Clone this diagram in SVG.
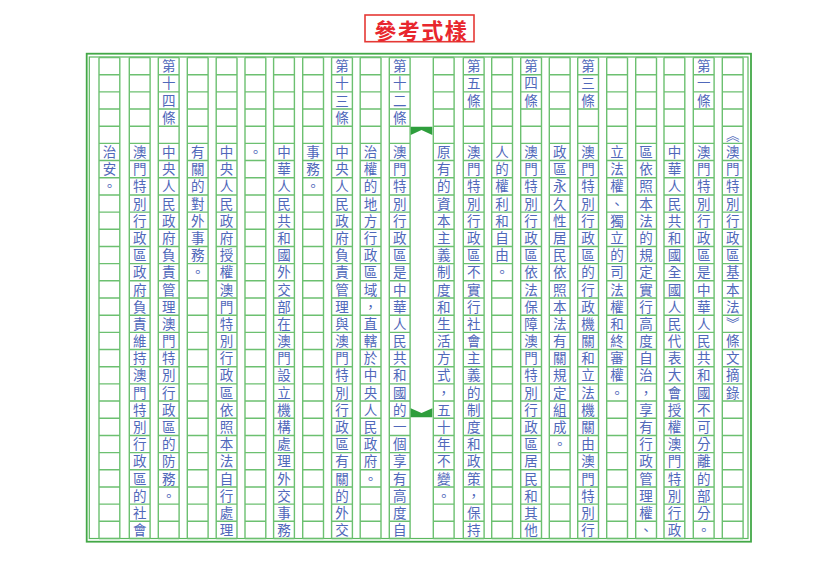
<svg xmlns="http://www.w3.org/2000/svg" width="832" height="586" viewBox="0 0 832 586">
<style>
.cl{fill:none;stroke:#6cc070;stroke-width:1.4}
.bo{fill:none;stroke:#43a847;stroke-width:1.8}
.bi{fill:none;stroke:#5cb860;stroke-width:1.2}
.fish{fill:#2e9e3c}
.t{font-family:"Noto Sans CJK TC","Noto Sans CJK SC",sans-serif;font-size:13.5px;fill:#5068ba;writing-mode:vertical-rl;letter-spacing:3.68px}
.ttl{font-family:"Noto Sans CJK TC","Noto Sans CJK SC",sans-serif;font-size:22px;font-weight:700;fill:#e8262d;letter-spacing:1.5px}
</style>
<defs>
<path id="col" class="cl" d="M0 57.5V538.5M20.8 57.5V538.5M0 57.5H20.8M0 74.68H20.8M0 91.86H20.8M0 109.04H20.8M0 126.21H20.8M0 143.39H20.8M0 160.57H20.8M0 177.75H20.8M0 194.93H20.8M0 212.11H20.8M0 229.29H20.8M0 246.46H20.8M0 263.64H20.8M0 280.82H20.8M0 298H20.8M0 315.18H20.8M0 332.36H20.8M0 349.54H20.8M0 366.71H20.8M0 383.89H20.8M0 401.07H20.8M0 418.25H20.8M0 435.43H20.8M0 452.61H20.8M0 469.79H20.8M0 486.96H20.8M0 504.14H20.8M0 521.32H20.8M0 538.5H20.8"/>
</defs>
<rect width="832" height="586" fill="#ffffff"/>
<g id="title">
<rect x="365" y="15" width="109" height="26.7" fill="#fff" stroke="#e53935" stroke-width="1.6"/>
<text class="ttl" x="421.3" y="29" text-anchor="middle" dominant-baseline="central">參考式樣</text>
</g>
<g id="grid">
<rect class="bo" x="86.7" y="53.7" width="664.3" height="488"/>
<rect class="bi" x="89.3" y="57" width="658.7" height="481.5"/>
<use href="#col" x="722.3"/>
<use href="#col" x="693.3"/>
<use href="#col" x="664"/>
<use href="#col" x="635.7"/>
<use href="#col" x="606.7"/>
<use href="#col" x="577.7"/>
<use href="#col" x="549.3"/>
<use href="#col" x="520.7"/>
<use href="#col" x="491.7"/>
<use href="#col" x="463.3"/>
<use href="#col" x="433.3"/>
<use href="#col" x="389.3"/>
<use href="#col" x="360.2"/>
<use href="#col" x="331.6"/>
<use href="#col" x="302.7"/>
<use href="#col" x="273.6"/>
<use href="#col" x="245"/>
<use href="#col" x="216.2"/>
<use href="#col" x="187.3"/>
<use href="#col" x="158.3"/>
<use href="#col" x="129.3"/>
<use href="#col" x="99"/>
</g>
<g id="fishtails">
<polygon class="fish" points="410.7,126.7 432.3,126.7 432.3,135 421.5,130 410.7,135"/>
<polygon class="fish" points="410.7,408.3 421.5,413 432.3,408.3 432.3,417.3 410.7,417.3"/>
</g>
<g id="text">
<text class="t" x="732.7" y="128.05">《澳門特別行政區基本法》條文摘錄</text>
<text class="t" x="703.7" y="59.34">第一條</text>
<text class="t" x="703.7" y="145.23">澳門特別行政區是中華人民共和國不可分離的部分。</text>
<text class="t" x="674.4" y="145.23">中華人民共和國全國人民代表大會授權澳門特別行政</text>
<text class="t" x="646.1" y="145.23">區依照本法的規定實行高度自治，享有行政管理權、</text>
<text class="t" x="617.1" y="145.23">立法權、獨立的司法權和終審權。</text>
<text class="t" x="588.1" y="59.34">第三條</text>
<text class="t" x="588.1" y="145.23">澳門特別行政區的行政機關和立法機關由澳門特別行</text>
<text class="t" x="559.7" y="145.23">政區永久性居民依照本法有關規定組成。</text>
<text class="t" x="531.1" y="59.34">第四條</text>
<text class="t" x="531.1" y="145.23">澳門特別行政區依法保障澳門特別行政區居民和其他</text>
<text class="t" x="502.1" y="145.23">人的權利和自由。</text>
<text class="t" x="473.7" y="59.34">第五條</text>
<text class="t" x="473.7" y="145.23">澳門特別行政區不實行社會主義的制度和政策，保持</text>
<text class="t" x="443.7" y="145.23">原有的資本主義制度和生活方式，五十年不變。</text>
<text class="t" x="399.7" y="59.34">第十二條</text>
<text class="t" x="399.7" y="145.23">澳門特別行政區是中華人民共和國的一個享有高度自</text>
<text class="t" x="370.6" y="145.23">治權的地方行政區域，直轄於中央人民政府。</text>
<text class="t" x="342" y="59.34">第十三條</text>
<text class="t" x="342" y="145.23">中央人民政府負責管理與澳門特別行政區有關的外交</text>
<text class="t" x="313.1" y="145.23">事務。</text>
<text class="t" x="284" y="145.23">中華人民共和國外交部在澳門設立機構處理外交事務</text>
<text class="t" x="255.4" y="145.23">。</text>
<text class="t" x="226.6" y="145.23">中央人民政府授權澳門特別行政區依照本法自行處理</text>
<text class="t" x="197.7" y="145.23">有關的對外事務。</text>
<text class="t" x="168.7" y="59.34">第十四條</text>
<text class="t" x="168.7" y="145.23">中央人民政府負責管理澳門特別行政區的防務。</text>
<text class="t" x="139.7" y="145.23">澳門特別行政區政府負責維持澳門特別行政區的社會</text>
<text class="t" x="109.4" y="145.23">治安。</text>
</g>
</svg>
